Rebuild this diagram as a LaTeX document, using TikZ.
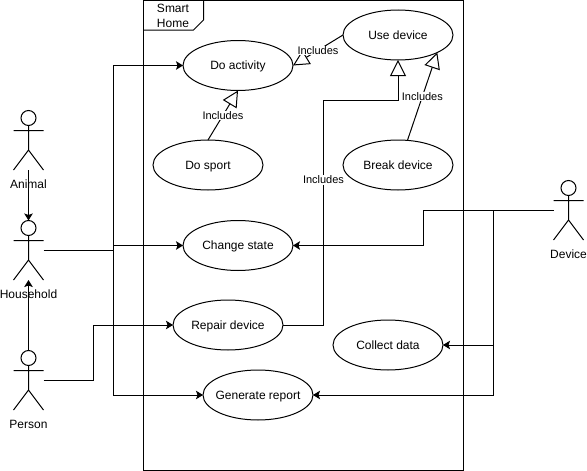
\documentclass[tikz,border=0pt]{standalone}
\usepackage{fontspec}
\setmainfont{Liberation Sans}
\usetikzlibrary{arrows.meta,shapes.geometric}
\tikzset{
  base/.style={line width=1pt,draw=black,line join=miter},
  usecase/.style={base,ellipse,minimum width=110pt,minimum height=50pt,inner sep=0pt,outer sep=0pt,font=\fontsize{12}{14}\selectfont},
  head/.style={base,circle,minimum size=15pt,inner sep=0pt,outer sep=0pt},
  actortext/.style={font=\fontsize{12}{14}\selectfont,inner sep=0pt},
  flow/.style={base,-{Stealth[length=7pt,width=8.5pt,inset=1.5pt]}},
  plainline/.style={base},
  includes/.style={base,-{Triangle[open,length=16pt,width=16pt,fill=white]}},
  inclabel/.style={font=\fontsize{11}{13}\selectfont,fill=white,inner sep=0.5pt},
}
\newcommand{\uc}[1]{\raisebox{-4.3pt}[0pt][0pt]{\makebox[0pt][c]{#1}}}
\newcommand{\actorfig}[4]{%
  \node[head] (#1) at (#2,#3) {};
  \coordinate (#1-neck) at (#2,#3+7.5);
  \coordinate (#1-hip) at (#2,#3+32);
  \coordinate (#1-armL) at (#2-15,#3+12.5);
  \coordinate (#1-armR) at (#2+15,#3+12.5);
  \coordinate (#1-legL) at (#2-15,#3+52);
  \coordinate (#1-legR) at (#2+15,#3+52);
  \coordinate (#1-side) at (#2+15,#3+22.5);
  \coordinate (#1-sideL) at (#2-15,#3+22.5);
  \coordinate (#1-foot) at (#2,#3+52);
  \draw[base] (#1-neck) -- (#1-hip) (#1-armL) -- (#1-armR) (#1-legL) -- (#1-hip) -- (#1-legR);
  \node[actortext] (#1-label) at (#2,#3+66) {#4};
}
\begin{document}
\begin{tikzpicture}[x=1pt,y=-1pt]
\useasboundingbox (0,0) rectangle (587,471);
\fill[white] (0,0) rectangle (587,471);
% frame
\draw[base] (143.5,0.5) rectangle (463.5,470);
\draw[base] (143.5,30) -- (193.5,30) -- (203.5,20) -- (203.5,0.5);
\node[font=\fontsize{12}{14.5}\selectfont,align=center,inner sep=0pt] (title) at (173,16) {Smart\\Home};
% use cases
\node[usecase] (use) at (398,35) {\uc{Use device}};
\node[usecase] (act) at (238,65.5) {\uc{Do activity}};
\node[usecase] (sport) at (208,165) {\uc{Do sport}};
\node[usecase] (brk) at (398,165) {\uc{Break device}};
\node[usecase] (state) at (238,245.5) {\uc{Change state}};
\node[usecase] (repair) at (228,325) {\uc{Repair device}};
\node[usecase] (collect) at (388,345) {\uc{Collect data}};
\node[usecase] (report) at (258,395) {\uc{Generate report}};
% actors
\actorfig{animal}{28.5}{118}{Animal}
\actorfig{house}{28.5}{228}{Household}
\actorfig{person}{28.5}{358}{Person}
\actorfig{device}{568.5}{188}{Device}
% actor connectors
\draw[flow] (animal-foot) -- (house.north);
\draw[flow] (person.north) -- (house-foot);
% household
\coordinate (hj) at (113.5,250.5);
\draw[plainline] (house-side) -- (hj);
\draw[flow] (hj) |- (act.west);
\draw[flow] (hj) |- (state.west);
\draw[flow] (hj) |- (report.west);
% person
\coordinate (pj) at (93.5,325);
\draw[flow] (person-side) -| (pj) -- (repair.west);
% device
\coordinate (dj) at (423.5,210.5);
\coordinate (dk) at (493.5,210.5);
\draw[flow] (device-sideL) -- (dj) |- (state.east);
\draw[flow] (dk) |- (collect.east);
\draw[flow] (dk) |- (report.east);
% includes
\draw[includes] (use.west) -- node[inclabel,pos=.5] (l1) {Includes} (act.east);
\draw[includes] (sport.north) -- node[inclabel,pos=.5] (l2) {Includes} (act.south);
\draw[includes] (brk.69) -- node[inclabel,pos=.5] (l3) {Includes} (use.-24);
\coordinate (ra) at (323.5,325);
\coordinate (rb) at (323.5,100.5);
\coordinate (rc) at (398,100.5);
\draw[includes] (repair.east) -- (ra) -- (rb) -- (rc) -- (use.south);
\node[inclabel] (l4) at (323.5,180) {Includes};
\end{tikzpicture}
\end{document}
